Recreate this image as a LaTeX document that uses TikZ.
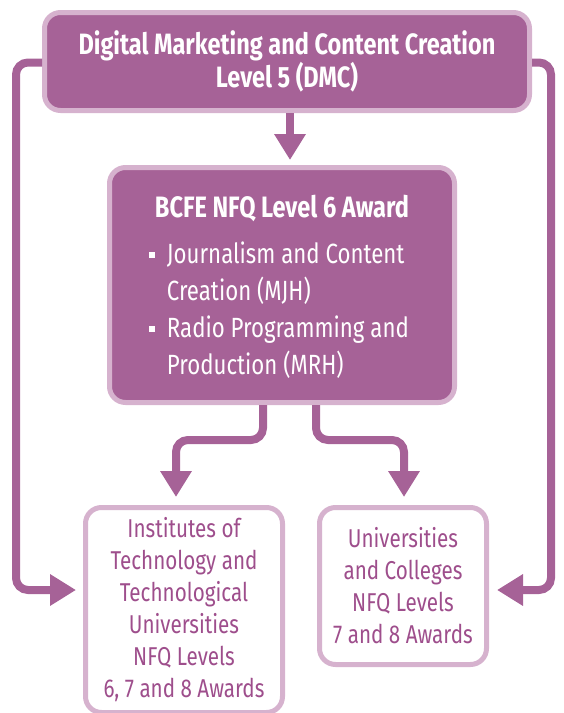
\documentclass[tikz,border=0pt]{standalone}
\usepackage{fontspec}
\setmainfont{Fira Sans}[FakeStretch=0.8]
\usetikzlibrary{arrows.meta}
\definecolor{mainpurple}{RGB}{166,98,151}
\definecolor{lightpurple}{RGB}{214,178,206}
\definecolor{textpurple}{RGB}{158,78,140}
\begin{document}
\begin{tikzpicture}[x=1pt,y=-1pt,
  darkbox/.style={draw=lightpurple,line width=5pt,fill=mainpurple,rounded corners=16pt,text=white,align=center,inner sep=0pt},
  lightbox/.style={draw=lightpurple,line width=5pt,fill=white,rounded corners=16pt,text=textpurple,align=center,inner sep=0pt,font=\fontsize{25.8}{32}\selectfont},
  conn/.style={draw=mainpurple,line width=8pt,rounded corners=12pt,-{Triangle[width=30pt,length=26pt]}}]
\useasboundingbox (0,0) rectangle (563,713);
\node[darkbox,minimum width=485pt,minimum height=98pt,font=\bfseries\fontsize{29.4}{33}\selectfont] (top) at (287,61.5)
  {Digital Marketing and Content Creation\\Level 5 (DMC)};
\node[darkbox,minimum width=345pt,minimum height=235pt,font=\fontsize{27.8}{37}\selectfont] (mid) at (282,285)
  {\begin{tabular}{@{}l@{\hspace{12pt}}l@{}}
   \multicolumn{2}{c}{\rule{0pt}{34pt}\bfseries\fontsize{29.5}{37}\selectfont BCFE NFQ Level 6 Award}\\[9pt]
   \raisebox{5.5pt}{\rule{6pt}{6pt}} & Journalism and Content\\
   & Creation (MJH)\\
   \raisebox{5.5pt}{\rule{6pt}{6pt}} & Radio Programming and\\
   & Production (MRH)
   \end{tabular}};
\node[lightbox,minimum width=197pt,minimum height=205pt] (bl) at (184,610)
  {Institutes of\\Technology and\\Technological\\Universities\\NFQ Levels\\6, 7 and 8 Awards};
\node[lightbox,minimum width=167pt,minimum height=157pt] (br) at (403,586)
  {Universities\\and Colleges\\NFQ Levels\\7 and 8 Awards};
\coordinate (tipmid) at (290,160);
\coordinate (tipbl) at (176,497);
\coordinate (tipbr) at (404,497);
\coordinate (tipleft) at (76,590);
\coordinate (tipright) at (497,590);
\draw[conn] ([xshift=3pt]top.south) -- (tipmid);
\draw[conn] ([xshift=-19pt]mid.south) -- ++(0,35) -| (tipbl);
\draw[conn] ([xshift=34pt]mid.south) -- ++(0,35) -| (tipbr);
\draw[conn] ([yshift=-1pt]top.west) -| (16,590) -- (tipleft);
\draw[conn] ([yshift=-1pt]top.east) -| (551,590) -- (tipright);
\end{tikzpicture}
\end{document}
